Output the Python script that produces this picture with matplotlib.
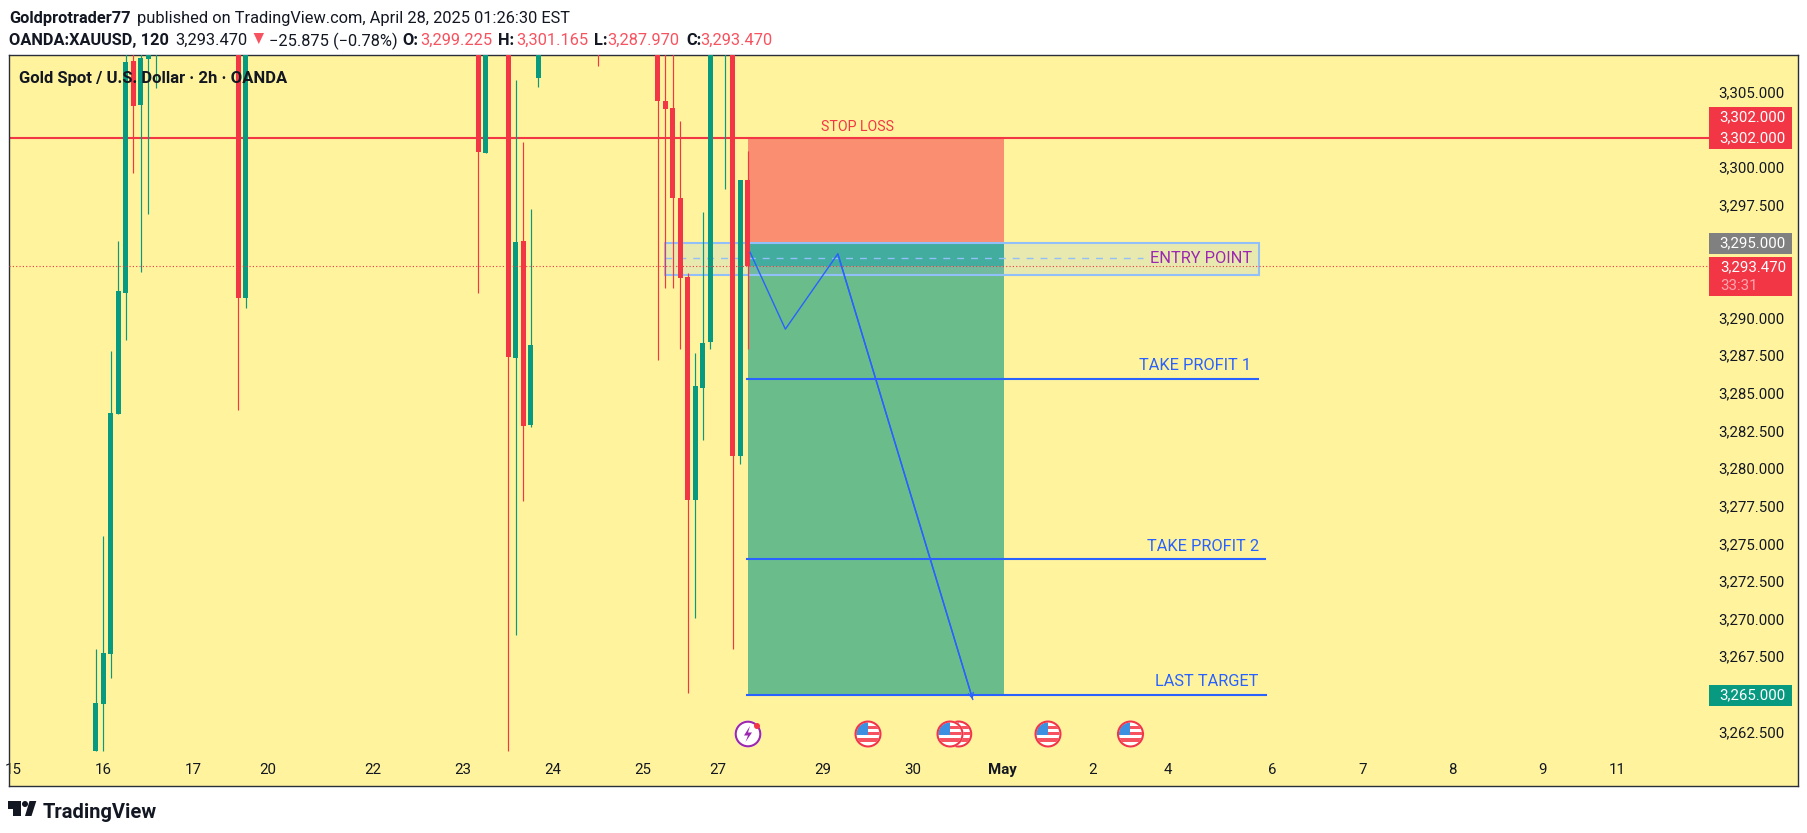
import matplotlib
matplotlib.use("Agg")
import matplotlib.pyplot as plt
from matplotlib.patches import Circle, Rectangle, Polygon

plt.rcParams['font.family'] = ['Roboto', 'DejaVu Sans']

# bars are counted from the "16" tick, 2h each
bar_idx = [-1, 0, 1, 2, 3, 4, 5, 6, 7, 18, 19, 50, 51, 54, 55, 56, 57, 58, 66,
           74, 75, 76, 77, 78, 79, 80, 81, 83, 84, 85, 86]
opens = [3261.27, 3264.41, 3267.71, 3283.68, 3291.72, 3307.12, 3304.19, 3307.25, 3309.0,
         3330.0, 3291.39, 3325.0, 3301.02, 3320.0, 3287.38, 3295.16, 3282.95, 3306.01, 3312.0,
         3318.0, 3304.46, 3304.01, 3298.01, 3292.76, 3277.95, 3285.39, 3288.45, 3312.0,
         3325.0, 3280.87, 3299.22]
highs = [3268.05, 3275.55, 3287.85, 3295.16, 3309.0, 3309.0, 3310.0, 3311.0, 3314.0,
         3332.0, 3333.0, 3328.0, 3325.0, 3323.0, 3305.85, 3301.73, 3297.28, 3315.0, 3314.0,
         3320.0, 3316.0, 3312.0, 3303.13, 3293.03, 3287.71, 3297.08, 3330.0, 3322.0,
         3328.0, 3299.21, 3301.165]
lows = [3261.27, 3261.27, 3266.14, 3283.68, 3288.58, 3299.69, 3293.12, 3296.97, 3305.34,
        3283.95, 3290.72, 3291.72, 3301.02, 3261.27, 3268.98, 3277.88, 3282.82, 3305.41, 3306.78,
        3287.25, 3292.05, 3292.05, 3287.98, 3265.14, 3270.13, 3281.93, 3287.98, 3298.61,
        3268.05, 3280.34, 3287.97]
closes = [3264.46, 3267.78, 3283.71, 3291.83, 3307.05, 3304.15, 3307.32, 3309.0, 3312.0,
          3291.39, 3330.0, 3301.09, 3322.0, 3287.47, 3295.09, 3282.88, 3288.25, 3312.0, 3310.0,
          3304.46, 3303.93, 3298.03, 3292.72, 3277.95, 3285.52, 3288.38, 3325.0, 3320.0,
          3280.87, 3299.21, 3293.47]

tick_bars = [-12, 0, 12, 22, 36, 48, 60, 72, 82, 96, 108, 120, 132, 142, 156, 168, 180, 192, 202]
tick_labels = ['15', '16', '17', '20', '22', '23', '24', '25', '27', '29', '30', 'May',
               '2', '4', '6', '7', '8', '9', '11']
price_ticks = [3305, 3300, 3297.5, 3290, 3287.5, 3285, 3282.5, 3280, 3277.5, 3275, 3272.5,
               3270, 3267.5, 3262.5]

stop_price = 3302.0
entry_price = 3295.0
last_price = 3293.47
tp1_price = 3286.0
tp2_price = 3274.0
target_price = 3265.0
box_top = 3295.0
box_bottom = 3292.9
box_dash = 3294.0

path_bars = [86.3, 91.0, 98.0, 116.0]
path_prices = [3294.4, 3289.3, 3294.3, 3264.7]

W, H = 1807, 833
L, R, T, B = 9, 1798, 55, 786
STEP = 7.495
X0 = 103.3
PX_PER_USD = 15.05

RED = '#F23645'
GREEN = '#089981'
BLUE = '#2962FF'
INK = '#131722'
BG = '#FFF39D'


def bar_at(px):
    return (px - X0) / STEP


fig = plt.figure(figsize=(W / 100, H / 100), dpi=100, facecolor='white')
ax = fig.add_axes([L / W, 1 - B / H, (R - L) / W, (B - T) / H], facecolor=BG)
ax.set_xlim(bar_at(L), bar_at(R))
ax.set_ylim(stop_price - (B - 138) / PX_PER_USD, stop_price + (138 - T) / PX_PER_USD)
ax.set_yticks([])
ax.tick_params(axis='x', length=0, pad=-16.5, labelsize=10.8, labelcolor=INK)
ax.set_xticks(tick_bars)
ax.set_xticklabels(tick_labels)
for lbl in ax.get_xticklabels():
    if lbl.get_text() == 'May':
        lbl.set_fontweight('bold')
for s in ax.spines.values():
    s.set_color('#2A2E39')
    s.set_linewidth(1.0)

# lines run up to the price scale only
axis_end = bar_at(1708)
ax.plot([bar_at(L), axis_end], [stop_price, stop_price], color=RED, lw=1.5, zorder=2)
ax.plot([bar_at(L), axis_end], [last_price, last_price], color=RED, lw=0.8, ls=(0, (1, 2)), zorder=7)

# position zones
zl, zr = bar_at(748), bar_at(1004)
ax.add_patch(Rectangle((zl, entry_price), zr - zl, stop_price - entry_price, fc='#F98E70', ec='none', zorder=1))
ax.add_patch(Rectangle((zl, target_price), zr - zl, entry_price - target_price, fc='#6BBC8B', ec='none', zorder=1))

# entry box
bl, br = bar_at(665), bar_at(1259)
ax.add_patch(Rectangle((bl, box_bottom), br - bl, box_top - box_bottom, fc='#E8E9AE', ec='none', zorder=1.5))
ax.add_patch(Rectangle((zl, box_bottom), zr - zl, last_price - box_bottom, fc='#72BA9E', ec='none', zorder=1.6))
ax.add_patch(Rectangle((zl, last_price), zr - zl, box_top - last_price, fc='#42AC9E', ec='none', zorder=1.6))
ax.add_patch(Rectangle((bl, box_bottom), br - bl, box_top - box_bottom, fc='none', ec='#90BFF9', lw=1.5, zorder=2))
ax.plot([bl, bar_at(1143)], [box_dash, box_dash], color='#90BFF9', lw=1, ls=(0, (5, 5)), zorder=2)

# candles
for i, o, h, l, c in zip(bar_idx, opens, highs, lows, closes):
    col = GREEN if c >= o else RED
    ax.vlines(i, l, h, color=col, lw=0.85, zorder=4)
    ax.bar(i, abs(c - o), bottom=min(o, c), width=5 / STEP, color=col, linewidth=0, zorder=5)

# targets
tl = bar_at(747)
ax.plot([tl, bar_at(1258)], [tp1_price, tp1_price], color=BLUE, lw=1.5, zorder=6)
ax.plot([tl, bar_at(1265)], [tp2_price, tp2_price], color=BLUE, lw=1.5, zorder=6)
ax.plot([tl, bar_at(1266)], [target_price, target_price], color=BLUE, lw=1.5, zorder=6)

ax.plot(path_bars, path_prices, color=BLUE, lw=1.0, zorder=8)
ax.annotate('', xy=(path_bars[-1], path_prices[-1]), xytext=(path_bars[-2], path_prices[-2]),
            arrowprops=dict(arrowstyle='->', color=BLUE, lw=1.0, mutation_scale=9, shrinkA=0, shrinkB=0), zorder=8)

# everything else is placed in image pixels
ov = fig.add_axes([0, 0, 1, 1], facecolor='none')
ov.set_xlim(0, W)
ov.set_ylim(H, 0)
ov.axis('off')


def put(x, y, s, color=INK, size=10.8, weight='normal', ha='left'):
    return ov.text(x, y, s, color=color, fontsize=size, fontweight=weight, ha=ha, va='center_baseline')


# header
put(9, 17, 'Goldprotrader77', weight='bold', size=11.8)
put(137, 17, 'published on TradingView.com, April 28, 2025 01:26:30 EST', size=11.8)
put(9, 39, 'OANDA:XAUUSD, 120', weight='bold', size=11.8)
put(175.5, 39, '3,293.470', size=11.8)
ov.add_patch(Polygon([[253.6, 33], [264, 33], [258.8, 44]], fc='#F7525F', ec='none'))
put(269, 39, '\u221225.875 (\u22120.78%)', size=11.8)
ohlc = [(402.5, 'O:', 420, '3,299.225'), (498.5, 'H:', 516, '3,301.165'),
        (594, 'L:', 607, '3,287.970'), (686, 'C:', 700.5, '3,293.470')]
for x1, name, x2, val in ohlc:
    put(x1, 39, name, weight='bold', size=11.8)
    put(x2, 39, val, color='#F7525F', size=11.8)

put(19, 77, 'Gold Spot / U.S. Dollar \u00b7 2h \u00b7 OANDA', weight='bold', size=12)

# drawing labels
put(858, 125, 'STOP LOSS', color=RED, size=10.2, ha='center')
put(1252, 257, 'ENTRY POINT', color='#9C27B0', size=11.8, ha='right')
put(1251, 364, 'TAKE PROFIT 1', color=BLUE, size=11.8, ha='right')
put(1259, 545, 'TAKE PROFIT 2', color=BLUE, size=11.8, ha='right')
put(1258, 680, 'LAST TARGET', color=BLUE, size=11.8, ha='right')

# price scale
for p in price_ticks:
    y = 137 + (stop_price - p) * PX_PER_USD
    put(1785, y, f'{p:,.3f}', ha='right')
ov.add_patch(Rectangle((1709, 107), 83, 42, fc=RED, ec='none'))
ov.add_patch(Rectangle((1709, 233), 83, 21, fc='#808080', ec='none'))
ov.add_patch(Rectangle((1709, 257), 83, 39, fc=RED, ec='none'))
ov.add_patch(Rectangle((1709, 685), 83, 21, fc=GREEN, ec='none'))
put(1786, 116, '3,302.000', color='white', ha='right')
put(1786, 137, '3,302.000', color='white', ha='right')
put(1786, 242, '3,295.000', color='white', ha='right')
put(1786, 266, '3,293.470', color='white', ha='right')
put(1720, 284, '33:31', color='#FFA5AE')
put(1786, 694, '3,265.000', color='white', ha='right')


# event icons, later ones sit on top
def flag(cx, cy, z):
    ov.add_patch(Circle((cx, cy), 13.5, fc='white', ec='none', zorder=z))
    clip = Circle((cx, cy), 11.5, transform=ov.transData)
    for y0, hh in [(-8, 3), (-2, 3), (3.5, 4)]:
        r = Rectangle((cx - 12, cy + y0), 24, hh, fc='#F7525F', ec='none', zorder=z + 0.1)
        ov.add_patch(r)
        r.set_clip_path(clip)
    r = Rectangle((cx - 12, cy - 12), 12, 12.5, fc='#3D8FE0', ec='none', zorder=z + 0.2)
    ov.add_patch(r)
    r.set_clip_path(clip)
    ov.add_patch(Circle((cx, cy), 12.5, fc='none', ec=RED, lw=1.5, zorder=z + 0.3))


for n, x in enumerate([868, 958.7, 950, 1048, 1130.5]):
    flag(x, 734, 5 + n)

ov.add_patch(Circle((748, 734), 13.5, fc='white', ec='none', zorder=5))
ov.add_patch(Circle((748, 734), 12.3, fc='none', ec='#9C27B0', lw=1.5, zorder=6))
ov.add_patch(Polygon([[750, 726], [744, 735.5], [748, 735.5], [745.5, 742], [752, 732.5], [748, 732.5]],
                     fc='#9C27B0', ec='none', zorder=6))
ov.add_patch(Circle((757, 726), 3, fc=RED, ec='none', zorder=7))

# logo
ov.add_patch(Polygon([[8, 801], [21.3, 801], [21.3, 816], [13, 816], [13, 809], [8, 809]], fc=INK, ec='none'))
ov.add_patch(Circle((25, 804), 3, fc=INK, ec='none'))
ov.add_patch(Polygon([[29.5, 801], [36.3, 801], [31.5, 816], [25, 816]], fc=INK, ec='none'))
put(43, 810, 'TradingView', weight='bold', size=14.5)

fig.savefig('out.png', dpi=100)
